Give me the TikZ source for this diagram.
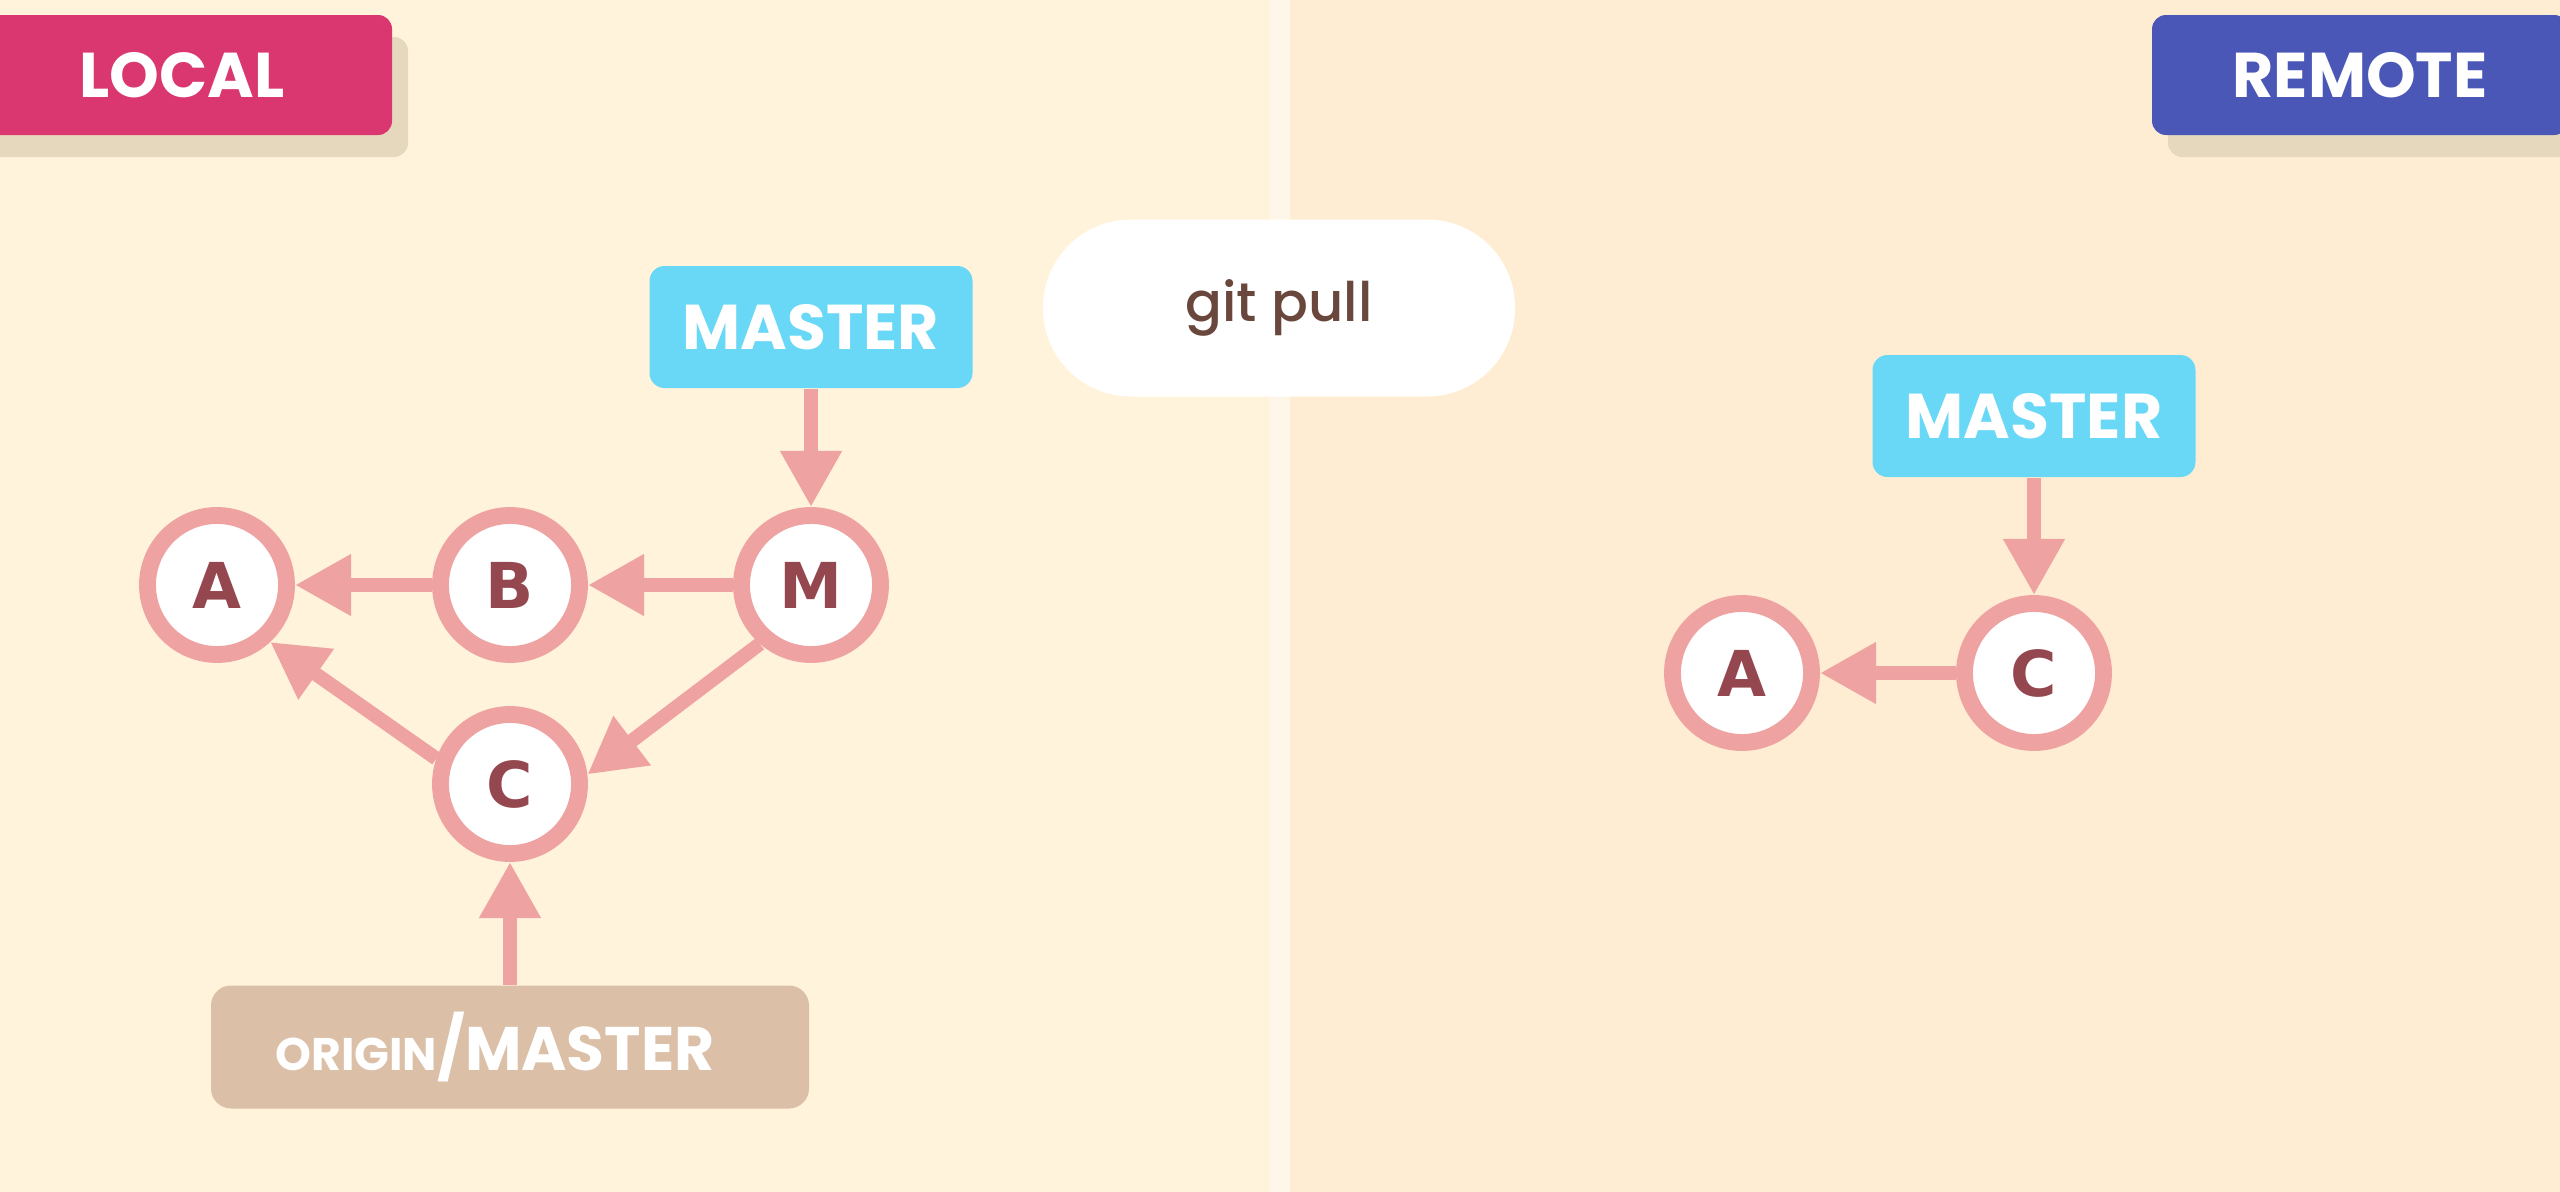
\documentclass[tikz,border=0pt]{standalone}
\usepackage{fontspec}
\setmainfont{Poppins}
\newfontfamily\commitfont{DejaVu Sans}
\newfontfamily\cmdfont{Poppins Medium}
\usetikzlibrary{arrows.meta,shadows}

\definecolor{bgleft}{HTML}{FFF3DB}
\definecolor{bgright}{HTML}{FFEDD3}
\definecolor{bgstrip}{HTML}{FFF6EA}
\definecolor{ringpink}{HTML}{EFA2A2}
\definecolor{letterred}{HTML}{954750}
\definecolor{branchcyan}{HTML}{69D8F7}
\definecolor{origintan}{HTML}{DBBFA7}
\definecolor{localpink}{HTML}{DA3670}
\definecolor{remoteblue}{HTML}{4B57B7}
\definecolor{tagshadow}{HTML}{E6D8BC}
\definecolor{cmdbrown}{HTML}{6A473D}

\begin{document}
\begin{tikzpicture}[>={Triangle[length=16pt,width=16.5pt]},
  commit/.style={shape=circle, draw=ringpink, line width=4.8pt, fill=white,
    minimum size=1.39cm, inner sep=0pt, text=letterred,
    font=\commitfont\bfseries\fontsize{18pt}{18pt}\selectfont},
  branch/.style={shape=rectangle, fill=branchcyan, rounded corners=0.15cm,
    minimum width=3.23cm, minimum height=1.22cm, text=white,
    font=\bfseries\fontsize{18}{18}\selectfont},
  side/.style={shape=rectangle, rounded corners=0.14cm, minimum height=1.2cm,
    text=white, font=\bfseries\fontsize{18}{18}\selectfont,
    drop shadow={shadow xshift=0.16cm, shadow yshift=-0.22cm, fill=tagshadow, opacity=1}},
  link/.style={->, draw=ringpink, line width=4pt}]

\useasboundingbox (0,0) rectangle (25.6,-11.92);
\fill [bgleft] (0,0) rectangle (12.70,-11.92);
\fill [bgright] (12.90,0) rectangle (25.6,-11.92);
\fill [bgstrip] (12.70,0) rectangle (12.90,-11.92);

\node (local) [side, fill=localpink, minimum width=4.2cm] at (1.82,-0.75) {LOCAL};
\node (remote) [side, fill=remoteblue, minimum width=4.16cm] at (23.60,-0.75) {REMOTE};

\node (pull) [shape=rectangle, fill=white, rounded corners=0.88cm,
  minimum width=4.72cm, minimum height=1.77cm, text=cmdbrown,
  font=\cmdfont\fontsize{15.5}{15.5}\selectfont] at (12.79,-3.08) {git pull};

% local repository
\node (la) [commit] at (2.17,-5.85) {A};
\node (lb) [commit, right of=la, node distance=2.93cm] {B};
\node (lm) [commit, right of=lb, node distance=3.01cm] {M};
\node (lc) [commit, below of=lb, node distance=1.99cm] {C};
\node (lmaster) [branch, above of=lm, node distance=2.58cm] {MASTER};
\node (lorigin) [shape=rectangle, fill=origintan, rounded corners=0.2cm,
  minimum width=5.98cm, minimum height=1.23cm, text=white,
  below of=lc, node distance=2.63cm]
{\bfseries\fontsize{13}{13}\selectfont ORIGIN\fontsize{17.5}{17.5}\selectfont/MASTER\hspace*{0.3cm}};

\draw [link] (lb) -- (la);
\draw [link] (lm) -- (lb);
\draw [link] (lm.229) -- (lc.7);
\draw [link] (lc.161) -- (la.313);
\draw [link] (lmaster) -- (lm);
\draw [link] (lorigin) -- (lc);

% remote repository
\node (ra) [commit] at (17.42,-6.73) {A};
\node (rc) [commit, right of=ra, node distance=2.92cm] {C};
\node (rmaster) [branch, above of=rc, node distance=2.57cm] {MASTER};

\draw [link] (rc) -- (ra);
\draw [link] (rmaster) -- (rc);
\end{tikzpicture}
\end{document}
